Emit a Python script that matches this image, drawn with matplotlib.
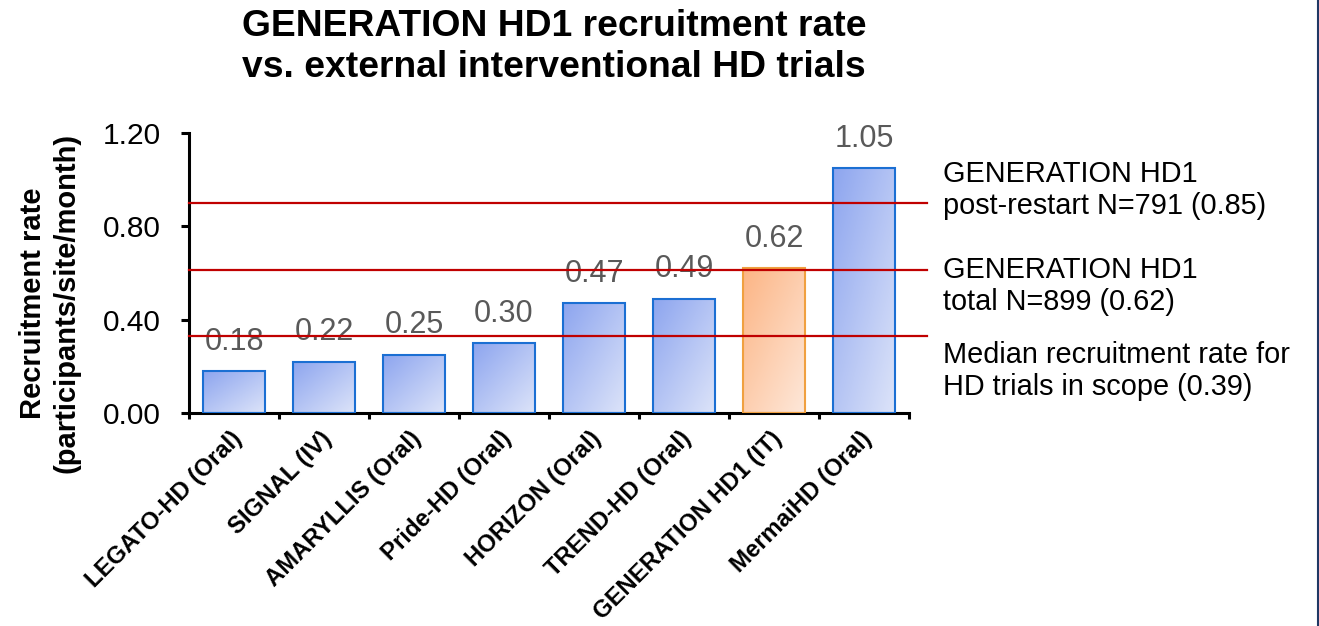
import numpy as np
import matplotlib.pyplot as plt
from matplotlib.colors import LinearSegmentedColormap
from matplotlib.lines import Line2D
from matplotlib.transforms import ScaledTranslation

plt.rcParams['font.family'] = ['Liberation Sans', 'DejaVu Sans']

# data
trials = ["LEGATO-HD (Oral)", "SIGNAL (IV)", "AMARYLLIS (Oral)", "Pride-HD (Oral)",
          "HORIZON (Oral)", "TREND-HD (Oral)", "GENERATION HD1 (IT)", "MermaiHD (Oral)"]
rates = [0.18, 0.22, 0.25, 0.30, 0.47, 0.49, 0.62, 1.05]
highlight = "GENERATION HD1 (IT)"

# reference lines (as drawn) and their captions
ref_levels = [0.90, 0.615, 0.33]
ref_labels = ["GENERATION HD1\npost-restart N=791 (0.85)",
              "GENERATION HD1\ntotal N=899 (0.62)",
              "Median recruitment rate for\nHD trials in scope (0.39)"]
ref_label_y = [190, 286, 371]  # pixel centre of each caption block

blue_cmap = LinearSegmentedColormap.from_list("blue", ["#8DA5EF", "#DDE4F9"])
orange_cmap = LinearSegmentedColormap.from_list("orange", ["#FCB585", "#FEE8DA"])

W, H = 1319, 626
fig = plt.figure(figsize=(W / 100, H / 100), dpi=100)
ax = fig.add_axes([189 / W, 1 - 413 / H, (927 - 189) / W, 280 / H])

x = np.arange(len(trials))
edge = ["#F0A040" if t == highlight else "#1B6FD3" for t in trials]
bars = ax.bar(x, rates, width=0.69, color="none", edgecolor=edge, linewidth=1.5, zorder=3)

# diagonal gradient fill, dark top-left to light bottom-right
U, V = np.meshgrid(np.linspace(0, 1, 60), np.linspace(0, 1, 60))
grad = (U + V) / 2
for t, b in zip(trials, bars):
    cmap = orange_cmap if t == highlight else blue_cmap
    im = ax.imshow(grad, cmap=cmap, vmin=0, vmax=1, aspect="auto", zorder=2,
                   extent=[b.get_x(), b.get_x() + b.get_width(), 0, b.get_height()])
    im.set_clip_path(b)

for xi, v in zip(x, rates):
    ax.annotate(f"{v:.2f}", (xi, v), xytext=(0, 21), textcoords="offset points",
                ha="center", va="center", fontsize=22, color="#595959")

for lvl in ref_levels:
    ax.plot([-0.5, 7.7], [lvl, lvl], color="#C00000", lw=1.6, zorder=4, clip_on=False)

for lbl, py in zip(ref_labels, ref_label_y):
    fig.text(943 / W, 1 - py / H, lbl, fontsize=20.8, va="center", ha="left", linespacing=1.2)

ax.set_xlim(-0.5, 7.7)
ax.set_ylim(0, 1.2)
ax.set_yticks([0, 0.4, 0.8, 1.2])
ax.yaxis.set_major_formatter(plt.FormatStrFormatter("%.2f"))
ax.tick_params(axis="y", length=6, width=2.2, pad=14.5, labelsize=21.5)

ax.set_xticks(x)
ax.set_xticklabels(trials, rotation=45, ha="right", va="top", rotation_mode="anchor",
                   fontsize=17.2, fontweight="bold")
ax.tick_params(axis="x", which="major", length=0, pad=10)
ax.set_xticks(np.arange(-0.5, 8, 1), minor=True)
ax.tick_params(axis="x", which="minor", length=4.5, width=2.2)
for lbl in ax.get_xticklabels():
    lbl.set_transform(lbl.get_transform() + ScaledTranslation(-4 / 100, 0, fig.dpi_scale_trans))

for s in ["top", "right"]:
    ax.spines[s].set_visible(False)
ax.spines["left"].set_linewidth(2.2)
ax.spines["bottom"].set_linewidth(2.2)
ax.spines["bottom"].set_bounds(-0.5, 7.5)

fig.text(50 / W, 1 - 303 / H, "Recruitment rate\n(participants/site/month)", rotation=90,
         ha="center", va="center", fontsize=21, fontweight="bold", linespacing=1.25)

fig.text(554 / W, 1 - 47 / H, "GENERATION HD1 recruitment rate\nvs. external interventional HD trials",
         ha="center", va="center", fontsize=26.8, fontweight="bold", linespacing=1.21)

fig.add_artist(Line2D([1317.5 / W] * 2, [0, 1], transform=fig.transFigure, color="#1F3864", lw=1.5))

fig.savefig("out.png", dpi=100)
